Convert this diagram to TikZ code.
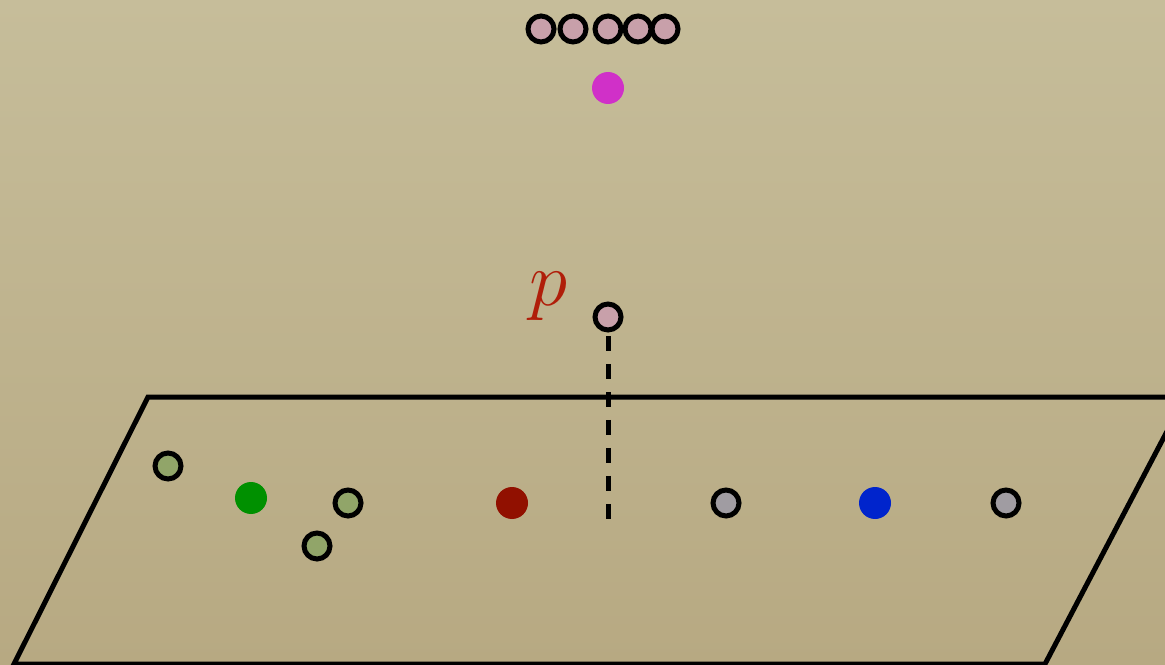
\documentclass[tikz,border=0pt]{standalone}
\usetikzlibrary{positioning}

\definecolor{papertop}{RGB}{198,189,154}
\definecolor{paperbot}{RGB}{183,169,130}
\definecolor{rose}{RGB}{200,160,170}
\definecolor{sage}{RGB}{145,165,105}
\definecolor{slate}{RGB}{160,156,162}
\definecolor{magentadot}{RGB}{208,48,200}
\definecolor{greendot}{RGB}{0,144,0}
\definecolor{reddot}{RGB}{145,16,0}
\definecolor{bluedot}{RGB}{0,36,204}
\definecolor{plabel}{RGB}{176,30,10}

\begin{document}
\begin{tikzpicture}[x=0.02cm, y=-0.02cm,
    opendot/.style={circle, draw=black, line width=0.1cm, minimum size=0.52cm, inner sep=0pt},
    solid dot/.style={circle, fill=#1, minimum size=0.64cm, inner sep=0pt},
    plane/.style={line width=0.1cm, line join=miter},
    drop/.style={line width=0.1cm, dash pattern=on 0.3cm off 0.26cm}
]

% Background
\useasboundingbox (0,0) rectangle (1165,665);
\shade[top color=papertop, bottom color=paperbot] (0,0) rectangle (1165,665);

% Plane
\begin{scope}
  \clip (0,0) rectangle (1165,665);
  \draw[plane] (148,397) -- (1185,397) -- (1045,664) -- (14,664) -- cycle;
\end{scope}

% Row of points at the top
\node[opendot, fill=rose] (q1) at (541,29) {};
\node[opendot, fill=rose] (q2) at (573,29) {};
\node[opendot, fill=rose] (q3) at (608,29) {};
\node[opendot, fill=rose] (q4) at (638,29) {};
\node[opendot, fill=rose] (q5) at (665,29) {};
\node[solid dot=magentadot] (m) at (608,88) {};

% Point p and its drop onto the plane
\coordinate (foot) at (608,530);
\draw[drop] (608,336) -- (foot);
\node[opendot, fill=rose] (p) at (608,317) {};
\node[text=plabel, font=\Huge, scale=1.77, inner sep=0pt] (plab) at (549,296) {$p$};

% Points in the plane
\node[opendot, fill=sage] (a1) at (168,466) {};
\node[solid dot=greendot] (g) at (251,498) {};
\node[opendot, fill=sage] (a2) at (348,503) {};
\node[opendot, fill=sage] (a3) at (317,546) {};
\node[solid dot=reddot] (r) at (512,503) {};
\node[opendot, fill=slate] (b1) at (726,503) {};
\node[solid dot=bluedot] (b) at (875,503) {};
\node[opendot, fill=slate] (b2) at (1006,503) {};

\end{tikzpicture}
\end{document}
